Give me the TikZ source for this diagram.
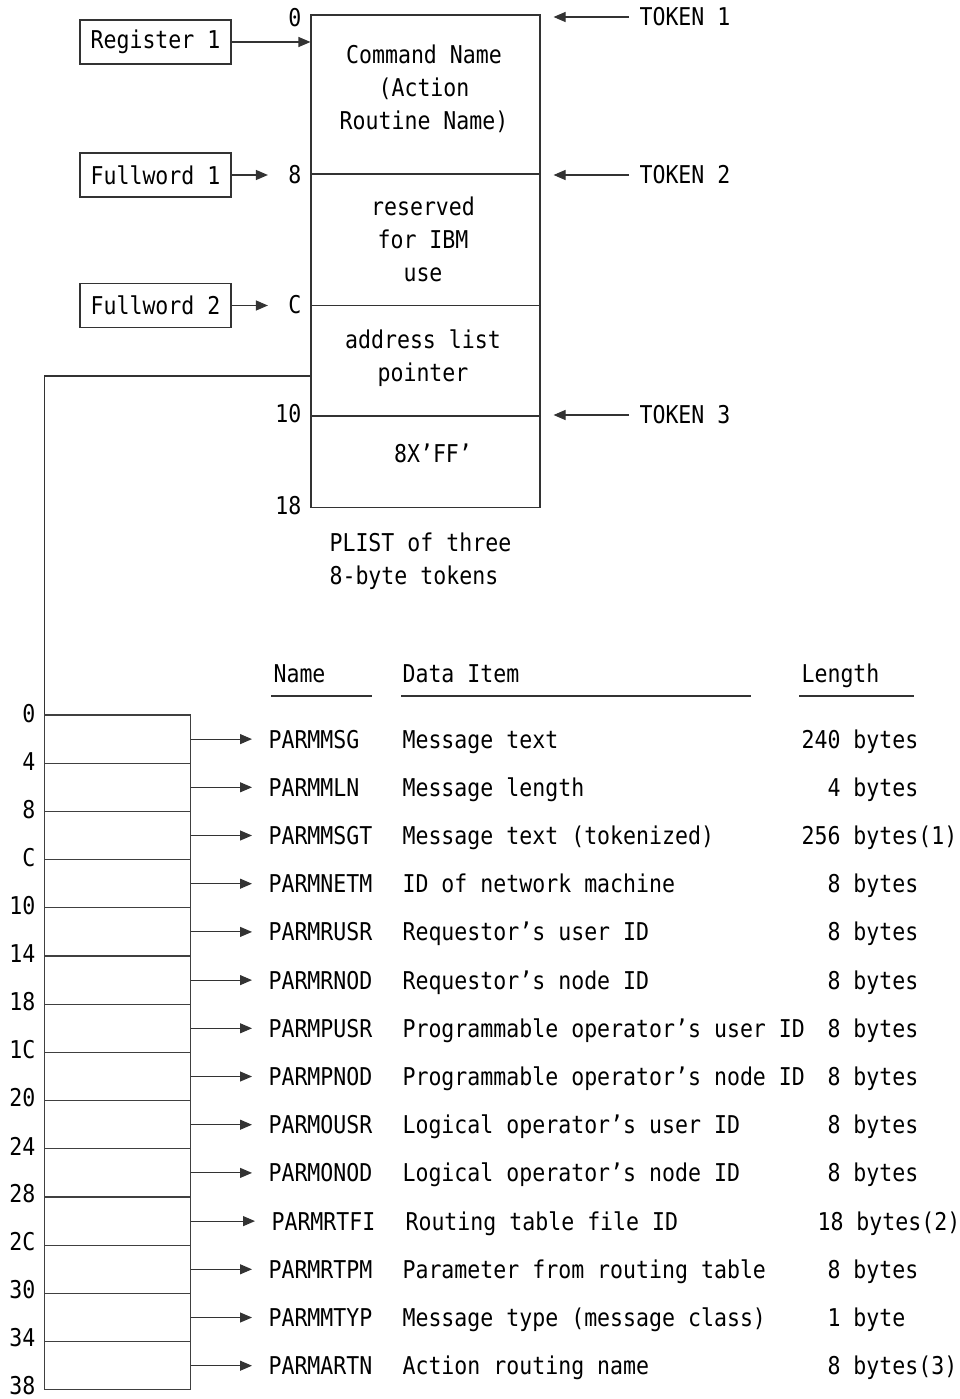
\documentclass[tikz,border=0pt]{standalone}
\usepackage{fontspec}
\newfontfamily\plistfont{DejaVu Sans Mono}[FakeStretch=0.88]
\usetikzlibrary{arrows.meta,positioning}
\tikzstyle{plist diagram}=[
    x=1pt,y=-1pt,line width=1.1pt,draw=black!80,
    >={Triangle[length=12pt,width=10pt]},
    every node/.style={
        font=\plistfont\fontsize{24.5}{33}\selectfont,
        inner sep=0pt,align=center,
    }]
\tikzstyle{cell}=[draw=black!80,minimum width=229pt]
\tikzstyle{regbox}=[draw=black!80,minimum width=151pt,minimum height=44pt]
\tikzstyle{slot}=[draw=black!75,minimum width=145.5pt,minimum height=48.2pt]
\tikzstyle{tokarrow}=[->,shorten <=10pt,shorten >=13pt]

\begin{document}
\begin{tikzpicture}[plist diagram]
    \useasboundingbox (0,0) rectangle (959,1399);

    % the PLIST
    \node[cell,minimum height=159pt] (c1) at (425.5,94.5) {};
    \node[cell,minimum height=131.5pt] (c2) at (425.5,239.75) {};
    \node[cell,minimum height=110.5pt] (c3) at (425.5,360.75) {};
    \node[cell,minimum height=91.5pt] (c4) at (425.5,461.75) {};
    \node (cmd) at (424,88.5) {Command Name\\(Action\\Routine Name)};
    \node (rsv) at (423,239) {reserved\\for IBM\\use};
    \node (adr) at (423,358) {address list\\pointer};
    \node (ff) at (433,453) {8X’FF’};

    \node[anchor=east] (o0) at (302,18) {0};
    \node[anchor=east] (o8) at (302,175) {8};
    \node[anchor=east] (oC) at (302,305) {C};
    \node[anchor=east] (o10) at (302,414) {10};
    \node[anchor=east] (o18) at (302,506) {18};

    \node[anchor=west,align=left] (cap) at (329,561.5) {PLIST of three\\8-byte tokens};

    \node[regbox] (reg) at (155.5,42) {Register 1};
    \node[regbox] (fw1) at (155.5,175) {Fullword 1};
    \node[regbox] (fw2) at (155.5,305.5) {Fullword 2};

    \draw[->] (reg.east) -- (reg.east -| c1.west);
    \draw[->,shorten >=20pt] (fw1.east) -- (fw1.east -| o8.west);
    \draw[->,shorten >=20pt] (fw2.east) -- (fw2.east -| oC.west);

    \node[anchor=west] (tk1) at (639,17) {TOKEN 1};
    \node[anchor=west] (tk2) at (639,175) {TOKEN 2};
    \node[anchor=west] (tk3) at (639,415) {TOKEN 3};
    \draw[tokarrow] (tk1.west) -- (tk1.west -| c1.east);
    \draw[tokarrow] (tk2.west) -- (tk2.west -| c2.east);
    \draw[tokarrow] (tk3.west) -- (tk3.west -| c4.east);

    % address list
    \foreach \i in {0,...,13}
        \node[slot] (s\i) at (117.5,739.1+48.2*\i) {};
    \foreach \o [count=\i from 0] in {0,4,8,C,10,14,18,1C,20,24,28,2C,30,34,38}
        \node[anchor=east] (a\i) at (36,714-0.2*\i+48.2*\i) {\o};

    \coordinate (ptr) at (311,376);
    \draw (ptr) -| (s0.north west);

    \node[anchor=base west] (hname) at (273,682) {Name};
    \node[anchor=base west] (hdata) at (402,682) {Data Item};
    \node[anchor=base west] (hlen) at (801,682) {Length};
    \draw (271,696) -- (372,696);
    \draw (401,696) -- (751,696);
    \draw (799,696) -- (914,696);

    \foreach \nm/\dat/\lng/\dx [count=\i from 0] in {
        PARMMSG/Message text/240 bytes/0,
        PARMMLN/Message length/\hphantom{00}4 bytes/0,
        PARMMSGT/Message text (tokenized)/256 bytes(1)/0,
        PARMNETM/ID of network machine/\hphantom{00}8 bytes/0,
        PARMRUSR/Requestor’s user ID/\hphantom{00}8 bytes/0,
        PARMRNOD/Requestor’s node ID/\hphantom{00}8 bytes/0,
        PARMPUSR/Programmable operator’s user ID/\hphantom{00}8 bytes/0,
        PARMPNOD/Programmable operator’s node ID/\hphantom{00}8 bytes/0,
        PARMOUSR/Logical operator’s user ID/\hphantom{00}8 bytes/0,
        PARMONOD/Logical operator’s node ID/\hphantom{00}8 bytes/0,
        PARMRTFI/Routing table file ID/\hphantom{0}18 bytes(2)/3,
        PARMRTPM/Parameter from routing table/\hphantom{00}8 bytes/0,
        PARMMTYP/Message type (message class)/\hphantom{00}1 byte/0,
        PARMARTN/Action routing name/\hphantom{00}8 bytes(3)/0}
    {
        \node[anchor=base west] (n\i) at (268+\dx,748+48.2*\i) {\nm};
        \node[anchor=base west] (d\i) at (402+\dx,748+48.2*\i) {\dat};
        \node[anchor=base west] (l\i) at (801+\dx,748+48.2*\i) {\lng};
        \draw[->,shorten >=16pt] (s\i.east) -- (s\i.east -| n\i.west);
    }
\end{tikzpicture}
\end{document}
